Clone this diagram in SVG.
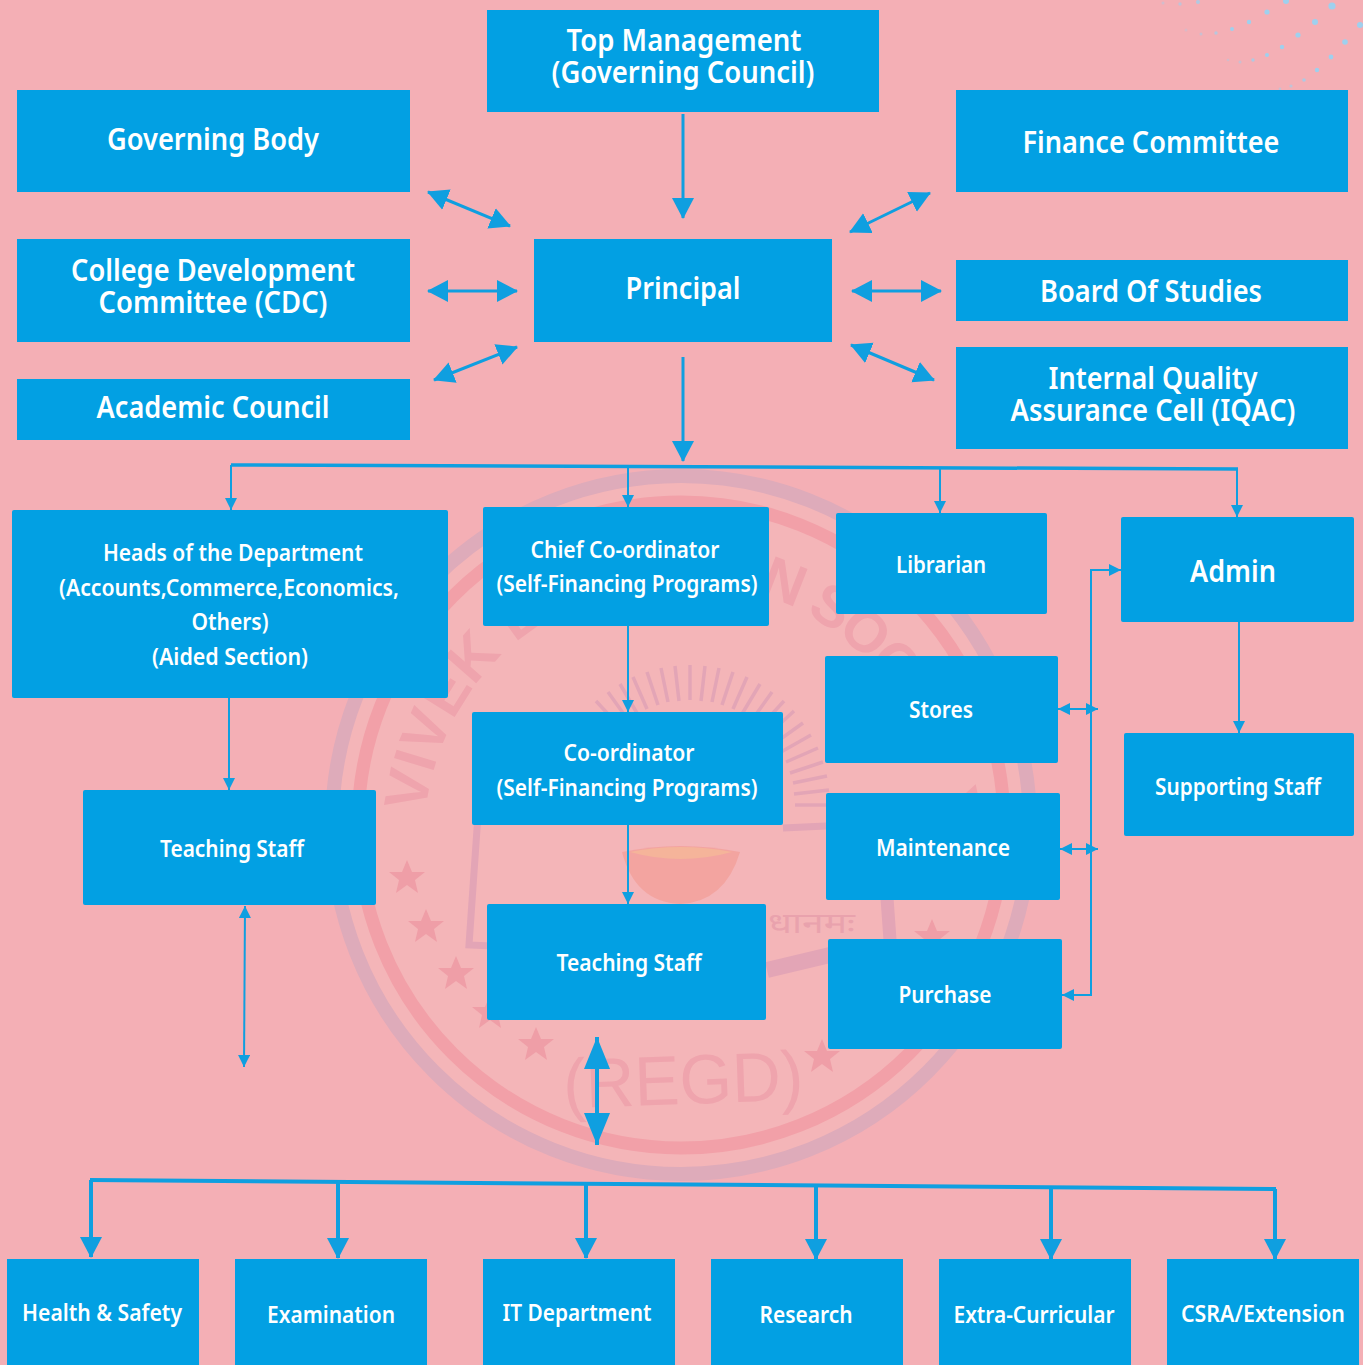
<svg xmlns="http://www.w3.org/2000/svg" xmlns:xlink="http://www.w3.org/1999/xlink" width="1363" height="1365" viewBox="0 0 1363 1365">
<style>
.b{fill:#02a0e3}
.r{rx:2px}
text{font-family:"Noto Sans","Open Sans","Liberation Sans",sans-serif;font-weight:600;fill:#fff;text-anchor:middle}
.l{font-size:30px}.m{font-size:24px}
.c{fill:none;stroke:#0f9fe0}
text.wt{font-family:"Liberation Sans",sans-serif;font-weight:700;fill:#efa4ad;text-anchor:start}
text.wn{font-weight:400}
.d{fill:#9fd0ee}
</style>
<defs>
<marker id="a" markerUnits="userSpaceOnUse" markerWidth="24" markerHeight="24" refX="20" refY="11" orient="auto-start-reverse"><path d="M0 0L21 11L0 22Z" fill="#0f9fe0"/></marker>
<marker id="s" markerUnits="userSpaceOnUse" markerWidth="14" markerHeight="14" refX="12" refY="6" orient="auto-start-reverse"><path d="M0 0L12 6L0 12Z" fill="#0f9fe0"/></marker>
<marker id="x" markerUnits="userSpaceOnUse" markerWidth="34" markerHeight="28" refX="32" refY="13" orient="auto-start-reverse"><path d="M0 0L32 13L0 26Z" fill="#0f9fe0"/></marker>
<path id="st" d="M0-17L5-5L18-5L8 3L11 16L0 8L-11 16L-8 3L-18-5L-5-5Z"/>
<path id="wl" d="M425.4 813A258 258 0 0 1 682 582"/>
<path id="wr" d="M757.4 593A258 258 0 0 1 924 752"/>
</defs>
<rect width="1363" height="1365" fill="#f4afb5"/>
<g id="dots" class="d">
<circle cx="1332" cy="6" r="3.6"/><circle cx="1315" cy="22" r="3"/><circle cx="1360" cy="25" r="3"/><circle cx="1286" cy="1" r="3"/><circle cx="1267" cy="12" r="2.6"/><circle cx="1249" cy="22" r="2.2"/><circle cx="1232" cy="29" r="2"/><circle cx="1216" cy="33" r="1.7" opacity=".7"/><circle cx="1201" cy="34" r="1.5" opacity=".5"/><circle cx="1186" cy="30" r="1.5" opacity=".3"/><circle cx="1198" cy="2" r="2" opacity=".8"/><circle cx="1180" cy="4" r="1.7" opacity=".6"/><circle cx="1163" cy="3" r="1.5" opacity=".4"/><circle cx="1298" cy="35" r="2.6"/><circle cx="1282" cy="47" r="2.2"/><circle cx="1267" cy="55" r="2"/><circle cx="1253" cy="60" r="1.7" opacity=".8"/><circle cx="1240" cy="62" r="1.5" opacity=".5"/><circle cx="1228" cy="60" r="1.3" opacity=".4"/><circle cx="1345" cy="42" r="2.8"/><circle cx="1331" cy="57" r="2.4"/><circle cx="1317" cy="70" r="2.2"/><circle cx="1304" cy="80" r="1.8" opacity=".8"/><circle cx="1291" cy="86" r="1.6" opacity=".6"/><circle cx="1280" cy="89" r="1.4" opacity=".5"/>
</g>
<g id="watermark">
<circle cx="681" cy="825" r="349" fill="#f4b5b8" stroke="#deabba" stroke-width="14"/>
<circle cx="681" cy="825" r="323" fill="none" stroke="#f2a0a8" stroke-width="13"/>
<text class="wt" font-size="60"><textPath href="#wl" xlink:href="#wl">VIVEK E</textPath></text>
<text class="wt" font-size="58" letter-spacing="-3"><textPath href="#wr" xlink:href="#wr">N SOC</textPath></text>
<text class="wt" font-size="60" transform="translate(935 791) rotate(79)">Y</text>
<g fill="none" stroke="#e3a5b6" stroke-width="3.5">
<path d="M620 727L596 701M628 720L608 692M637.500 714L620 684M647 709L633 677M658 705L647 672M668 702L661 668M679 701L675 666M690 700L690 665M701 701L705 666M712 702L719 668M722 705L733 672M733 709L747 677M742 714L760 684M752 720L772 692M760 727L784 701M768 735L794 711M775 743L803 723M781 752L811 735M786 762L818 748M790 773L823 762M793 783L827 776M794 794L829 790M795 805L830 805"/>
<path d="M479 800L469 945L590 950M783 828L826 826" stroke-width="7"/>
<path d="M880 800L890 940" stroke-width="13"/>
<path d="M767 970L830 955" stroke-width="16"/>
</g>
<path d="M622 852Q680 840 740 852Q725 902 680 904Q635 902 622 852Z" fill="#f29c96" opacity=".7"/>
<path d="M630 852Q680 842 732 852Q680 866 630 852Z" fill="#f5b49a"/>
<text x="768" y="933" font-size="28" textLength="87" lengthAdjust="spacingAndGlyphs" style="font-family:'Noto Sans',sans-serif;font-weight:400;fill:#e9a2ad;text-anchor:start">धानमः</text>
<text class="wt wn" x="564" y="1104" font-size="70" textLength="240" lengthAdjust="spacingAndGlyphs" transform="rotate(-2 684 1104)">(REGD)</text>
<g fill="#ef9ea7">
<use href="#st" xlink:href="#st" x="407" y="877"/><use href="#st" xlink:href="#st" x="426" y="926"/><use href="#st" xlink:href="#st" x="456" y="973"/><use href="#st" xlink:href="#st" x="490" y="1012"/><use href="#st" xlink:href="#st" x="536" y="1044"/><use href="#st" xlink:href="#st" x="822" y="1056"/><use href="#st" xlink:href="#st" x="932" y="936"/>
</g>
</g>
<g id="connectors">
<path class="c" stroke-width="3" d="M683 114V218" marker-end="url(#a)"/>
<path class="c" stroke-width="3" d="M683 357V461" marker-end="url(#a)"/>
<path class="c" stroke-width="3" d="M428 192L510 226" marker-start="url(#a)" marker-end="url(#a)"/>
<path class="c" stroke-width="3" d="M428 291H517" marker-start="url(#a)" marker-end="url(#a)"/>
<path class="c" stroke-width="3" d="M434 380L517 347" marker-start="url(#a)" marker-end="url(#a)"/>
<path class="c" stroke-width="3" d="M850 232L930 193" marker-start="url(#a)" marker-end="url(#a)"/>
<path class="c" stroke-width="3" d="M852 291H941" marker-start="url(#a)" marker-end="url(#a)"/>
<path class="c" stroke-width="3" d="M851 345L934 380" marker-start="url(#a)" marker-end="url(#a)"/>
<path class="c" stroke-width="3.500" d="M231 465L1238 469"/>
<path class="c" stroke-width="2" d="M231 465V510" marker-end="url(#s)"/>
<path class="c" stroke-width="2" d="M628 467V507" marker-end="url(#s)"/>
<path class="c" stroke-width="2" d="M940 468V513" marker-end="url(#s)"/>
<path class="c" stroke-width="2" d="M1237 469V517" marker-end="url(#s)"/>
<path class="c" stroke-width="2" d="M229 698V790" marker-end="url(#s)"/>
<path class="c" stroke-width="2" d="M628 626V712" marker-end="url(#s)"/>
<path class="c" stroke-width="2" d="M628 825V904" marker-end="url(#s)"/>
<path class="c" stroke-width="2" d="M1239 622V733" marker-end="url(#s)"/>
<path class="c" stroke-width="2" d="M245 906L244 1067" marker-start="url(#s)" marker-end="url(#s)"/>
<path class="c" stroke-width="2" d="M1062 995H1091V570H1121" marker-start="url(#s)" marker-end="url(#s)"/>
<path class="c" stroke-width="2" d="M1058 709H1098" marker-start="url(#s)" marker-end="url(#s)"/>
<path class="c" stroke-width="2" d="M1060 849H1098" marker-start="url(#s)" marker-end="url(#s)"/>
<path class="c" stroke-width="4" d="M597 1037V1145" marker-start="url(#x)" marker-end="url(#x)"/>
<path class="c" stroke-width="4" d="M90 1180L1276 1189"/>
<path class="c" stroke-width="4" d="M91 1180V1257" marker-end="url(#a)"/>
<path class="c" stroke-width="4" d="M338 1182V1258" marker-end="url(#a)"/>
<path class="c" stroke-width="4" d="M586 1184V1258" marker-end="url(#a)"/>
<path class="c" stroke-width="4" d="M816 1186V1259" marker-end="url(#a)"/>
<path class="c" stroke-width="4" d="M1051 1187V1259" marker-end="url(#a)"/>
<path class="c" stroke-width="4" d="M1275 1189V1259" marker-end="url(#a)"/>
</g>
<g id="top-management"><rect class="b" x="487" y="10" width="392" height="102"/><text class="l" x="684" y="51" textLength="235" lengthAdjust="spacingAndGlyphs">Top Management</text><text class="l" x="683" y="83" textLength="263" lengthAdjust="spacingAndGlyphs">(Governing Council)</text></g>
<g id="governing-body"><rect class="b" x="17" y="90" width="393" height="102"/><text class="l" x="213" y="150" textLength="212" lengthAdjust="spacingAndGlyphs">Governing Body</text></g>
<g id="finance-committee"><rect class="b" x="956" y="90" width="392" height="102"/><text class="l" x="1151" y="153" textLength="257" lengthAdjust="spacingAndGlyphs">Finance Committee</text></g>
<g id="cdc"><rect class="b" x="17" y="239" width="393" height="103"/><text class="l" x="213" y="281" textLength="284" lengthAdjust="spacingAndGlyphs">College Development</text><text class="l" x="213" y="313" textLength="229" lengthAdjust="spacingAndGlyphs">Committee (CDC)</text></g>
<g id="principal"><rect class="b" x="534" y="239" width="298" height="103"/><text class="l" x="683" y="299" textLength="115" lengthAdjust="spacingAndGlyphs">Principal</text></g>
<g id="board-of-studies"><rect class="b" x="956" y="260" width="392" height="61"/><text class="l" x="1151" y="302" textLength="222" lengthAdjust="spacingAndGlyphs">Board Of Studies</text></g>
<g id="academic-council"><rect class="b" x="17" y="379" width="393" height="61"/><text class="l" x="213" y="418" textLength="233" lengthAdjust="spacingAndGlyphs">Academic Council</text></g>
<g id="iqac"><rect class="b" x="956" y="347" width="392" height="102"/><text class="l" x="1153" y="389" textLength="209" lengthAdjust="spacingAndGlyphs">Internal Quality</text><text class="l" x="1153" y="421" textLength="285" lengthAdjust="spacingAndGlyphs">Assurance Cell (IQAC)</text></g>
<g id="hod"><rect class="b r" x="12" y="510" width="436" height="188"/><text class="m" x="233" y="561" textLength="260" lengthAdjust="spacingAndGlyphs">Heads of the Department</text><text class="m" x="229" y="596" textLength="340" lengthAdjust="spacingAndGlyphs">(Accounts,Commerce,Economics,</text><text class="m" x="230" y="630" textLength="77" lengthAdjust="spacingAndGlyphs">Others)</text><text class="m" x="230" y="665" textLength="156" lengthAdjust="spacingAndGlyphs">(Aided Section)</text></g>
<g id="chief-coordinator"><rect class="b r" x="483" y="507" width="286" height="119"/><text class="m" x="625" y="558" textLength="189" lengthAdjust="spacingAndGlyphs">Chief Co-ordinator</text><text class="m" x="627" y="592" textLength="261" lengthAdjust="spacingAndGlyphs">(Self-Financing Programs)</text></g>
<g id="librarian"><rect class="b r" x="836" y="513" width="211" height="101"/><text class="m" x="941" y="573" textLength="90" lengthAdjust="spacingAndGlyphs">Librarian</text></g>
<g id="admin"><rect class="b r" x="1121" y="517" width="233" height="105"/><text class="l" x="1233" y="582" textLength="86" lengthAdjust="spacingAndGlyphs">Admin</text></g>
<g id="stores"><rect class="b r" x="825" y="656" width="233" height="107"/><text class="m" x="941" y="718" textLength="64" lengthAdjust="spacingAndGlyphs">Stores</text></g>
<g id="coordinator"><rect class="b r" x="472" y="712" width="311" height="113"/><text class="m" x="629" y="761" textLength="131" lengthAdjust="spacingAndGlyphs">Co-ordinator</text><text class="m" x="627" y="796" textLength="261" lengthAdjust="spacingAndGlyphs">(Self-Financing Programs)</text></g>
<g id="maintenance"><rect class="b r" x="826" y="793" width="234" height="107"/><text class="m" x="943" y="856" textLength="134" lengthAdjust="spacingAndGlyphs">Maintenance</text></g>
<g id="supporting-staff"><rect class="b r" x="1124" y="733" width="230" height="103"/><text class="m" x="1238" y="795" textLength="166" lengthAdjust="spacingAndGlyphs">Supporting Staff</text></g>
<g id="teaching-staff-aided"><rect class="b r" x="83" y="790" width="293" height="115"/><text class="m" x="232" y="857" textLength="144" lengthAdjust="spacingAndGlyphs">Teaching Staff</text></g>
<g id="teaching-staff-sf"><rect class="b r" x="487" y="904" width="279" height="116"/><text class="m" x="629" y="971" textLength="145" lengthAdjust="spacingAndGlyphs">Teaching Staff</text></g>
<g id="purchase"><rect class="b r" x="828" y="939" width="234" height="110"/><text class="m" x="945" y="1003" textLength="93" lengthAdjust="spacingAndGlyphs">Purchase</text></g>
<g id="health-safety"><rect class="b" x="7" y="1259" width="192" height="106"/><text class="m" x="102" y="1321" textLength="160" lengthAdjust="spacingAndGlyphs">Health &amp; Safety</text></g>
<g id="examination"><rect class="b" x="235" y="1259" width="192" height="106"/><text class="m" x="331" y="1323" textLength="128" lengthAdjust="spacingAndGlyphs">Examination</text></g>
<g id="it-department"><rect class="b" x="483" y="1259" width="192" height="106"/><text class="m" x="577" y="1321" textLength="149" lengthAdjust="spacingAndGlyphs">IT Department</text></g>
<g id="research"><rect class="b" x="711" y="1259" width="192" height="106"/><text class="m" x="806" y="1323" textLength="93" lengthAdjust="spacingAndGlyphs">Research</text></g>
<g id="extra-curricular"><rect class="b" x="939" y="1259" width="192" height="106"/><text class="m" x="1034" y="1323" textLength="161" lengthAdjust="spacingAndGlyphs">Extra-Curricular</text></g>
<g id="csra-extension"><rect class="b" x="1167" y="1259" width="192" height="106"/><text class="m" x="1263" y="1322" textLength="164" lengthAdjust="spacingAndGlyphs">CSRA/Extension</text></g>
</svg>
